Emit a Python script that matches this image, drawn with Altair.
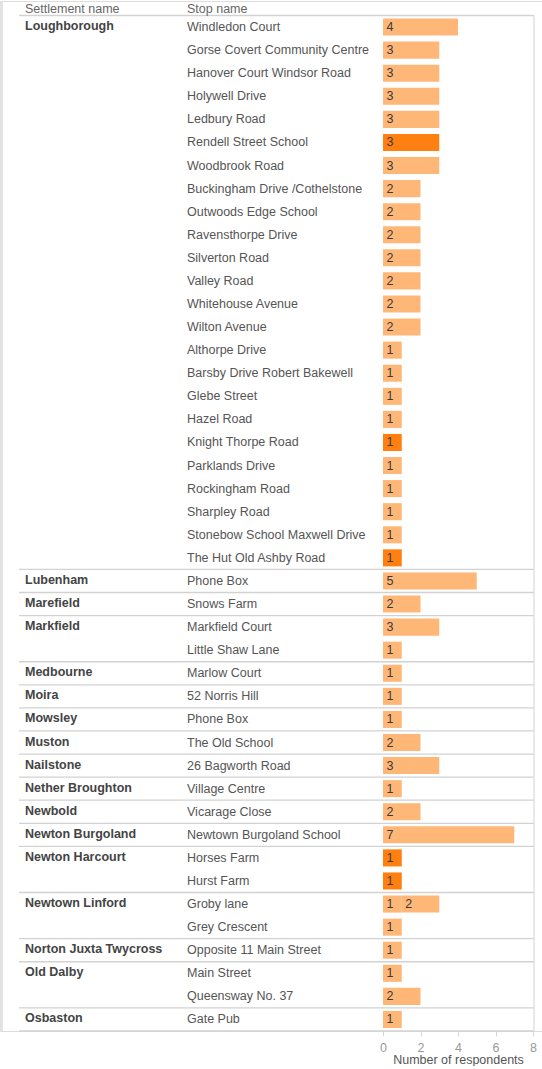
import altair as alt
import pandas as pd

# ---- data ----
settlements = [
    "Loughborough", "Lubenham", "Marefield", "Markfield", "Medbourne", "Moira",
    "Mowsley", "Muston", "Nailstone", "Nether Broughton", "Newbold",
    "Newton Burgoland", "Newton Harcourt", "Newtown Linford",
    "Norton Juxta Twycross", "Old Dalby", "Osbaston",
]
stops_by_settlement = [
    ["Windledon Court", "Gorse Covert Community Centre", "Hanover Court Windsor Road",
     "Holywell Drive", "Ledbury Road", "Rendell Street School", "Woodbrook Road",
     "Buckingham Drive /Cothelstone", "Outwoods Edge School", "Ravensthorpe Drive",
     "Silverton Road", "Valley Road", "Whitehouse Avenue", "Wilton Avenue",
     "Althorpe Drive", "Barsby Drive Robert Bakewell", "Glebe Street", "Hazel Road",
     "Knight Thorpe Road", "Parklands Drive", "Rockingham Road", "Sharpley Road",
     "Stonebow School Maxwell Drive", "The Hut Old Ashby Road"],
    ["Phone Box"],
    ["Snows Farm"],
    ["Markfield Court", "Little Shaw Lane"],
    ["Marlow Court"],
    ["52 Norris Hill"],
    ["Phone Box"],
    ["The Old School"],
    ["26 Bagworth Road"],
    ["Village Centre"],
    ["Vicarage Close"],
    ["Newtown Burgoland School"],
    ["Horses Farm", "Hurst Farm"],
    ["Groby lane", "Grey Crescent"],
    ["Opposite 11 Main Street"],
    ["Main Street", "Queensway No. 37"],
    ["Gate Pub"],
]
# respondents per stop (Groby lane has two stacked segments)
respondents = [
    [4], [3], [3], [3], [3], [3], [3], [2], [2], [2], [2], [2], [2], [2],
    [1], [1], [1], [1], [1], [1], [1], [1], [1], [1],
    [5], [2], [3], [1], [1], [1], [1], [2], [3], [1], [2], [7],
    [1], [1], [1, 2], [1], [1], [1], [2], [1],
]
highlighted = [
    "Rendell Street School", "Knight Thorpe Road", "The Hut Old Ashby Road",
    "Horses Farm", "Hurst Farm",
]
x_ticks = [0, 2, 4, 6, 8]

# ---- tables ----
rows, labels, seps, segs = [], [], [], []
r = 0
for s, stops in zip(settlements, stops_by_settlement):
    labels.append({"settlement": s, "row": r})
    seps.append({"sep": r - 0.5})
    for st in stops:
        rows.append({"stop": st, "row": r})
        for k, v in enumerate(respondents[r]):
            segs.append({"row": r, "seg": k, "value": v,
                         "dark": st in highlighted})
        r += 1
seps.append({"sep": r - 0.5})

rows_df = pd.DataFrame(rows)
labels_df = pd.DataFrame(labels)
seps_df = pd.DataFrame(seps)
segs_df = pd.DataFrame(segs)

FONT = "Liberation Sans"
W, H = 542, 1030
yscale = alt.Scale(domain=[-1.128, r - 0.5], reverse=True, nice=False, zero=False)
xscale = alt.Scale(domain=[-20.43, 8.48], nice=False, zero=False)

bars = alt.Chart(segs_df).transform_stack(
    stack="value", groupby=["row"], as_=["x0", "x1"],
    sort=[alt.SortField("seg")]
).transform_calculate(
    ylo="datum.row - 0.37", yhi="datum.row + 0.37"
).mark_rect().encode(
    x=alt.X("x0:Q", scale=xscale,
            axis=alt.Axis(values=x_ticks, title="Number of respondents",
                          domain=False, grid=False, tickColor="#d6d6d6",
                          tickSize=5, labelColor="#999999", labelFontSize=12.5,
                          labelFont=FONT, labelPadding=5,
                          titleFont=FONT, titleFontSize=12.5,
                          titleFontWeight="normal", titleColor="#555555",
                          titleX=458, titleY=22, titleAlign="center")),
    x2="x1:Q",
    y=alt.Y("ylo:Q", scale=yscale, axis=None),
    y2="yhi:Q",
    color=alt.Color("dark:N", legend=None,
                    scale=alt.Scale(domain=[False, True],
                                    range=["#FFB778", "#FF8010"])),
)

bar_text = alt.Chart(segs_df).transform_stack(
    stack="value", groupby=["row"], as_=["x0", "x1"],
    sort=[alt.SortField("seg")]
).mark_text(align="left", baseline="middle", dx=3.5, font=FONT,
            fontSize=12.5, color="#3a3a3a").encode(
    x=alt.X("x0:Q", scale=xscale),
    y=alt.Y("row:Q", scale=yscale, axis=None),
    text="value:Q",
)

stop_text = alt.Chart(rows_df).mark_text(
    align="left", baseline="middle", font=FONT, fontSize=12.5, color="#555555"
).encode(
    x=alt.value(187),
    y=alt.Y("row:Q", scale=yscale, axis=None),
    text="stop:N",
)

settle_text = alt.Chart(labels_df).mark_text(
    align="left", baseline="middle", font=FONT, fontSize=12.5,
    fontWeight="bold", color="#444444", dy=-1
).encode(
    x=alt.value(25),
    y=alt.Y("row:Q", scale=yscale, axis=None),
    text="settlement:N",
)

sep_rules = alt.Chart(seps_df).mark_rule(color="#d2d2d2", strokeWidth=1.3).encode(
    x=alt.value(19), x2=alt.value(534),
    y=alt.Y("sep:Q", scale=yscale, axis=None),
)

right_border = alt.Chart(seps_df).mark_rule(color="#dddddd", strokeWidth=1.3).encode(
    x=alt.value(534),
    y=alt.Y("min(sep):Q", scale=yscale, axis=None),
    y2="max(sep):Q",
)

left_edge = alt.Chart(seps_df).mark_rule(color="#e2e2e2", strokeWidth=1.5).encode(
    x=alt.value(1.5), y=alt.value(0), y2=alt.value(H),
)

headers_df = pd.DataFrame({"label": ["Settlement name", "Stop name"],
                           "px": [25, 187]})
headers = alt.Chart(headers_df).mark_text(
    align="left", baseline="middle", font=FONT, fontSize=12.5, color="#666666"
).encode(
    x=alt.X("px:Q", scale=None),
    y=alt.value(8),
    text="label:N",
)

chart = alt.layer(
    left_edge, sep_rules, right_border, bars, bar_text, stop_text, settle_text, headers
).properties(
    width=W, height=H, padding=0
).configure_view(stroke=None).configure(background="white")

chart.save("out.html", embed_options={"renderer": "svg", "actions": False})
